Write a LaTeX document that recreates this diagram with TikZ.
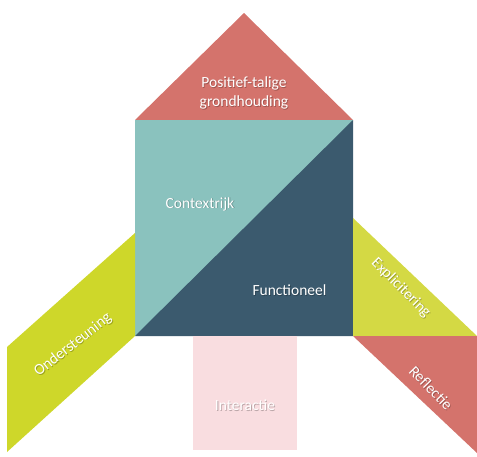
\documentclass[tikz,border=0pt]{standalone}
\usepackage{fontspec}
\setmainfont{Carlito}
\usetikzlibrary{calc}
\definecolor{roofred}{HTML}{D4736C}
\definecolor{tealc}{HTML}{8AC2BE}
\definecolor{navy}{HTML}{3B5A6E}
\definecolor{lime}{HTML}{CED72A}
\definecolor{limelight}{HTML}{D4D944}
\definecolor{pinkc}{HTML}{F9DDE0}
\tikzset{
  lbl/.style={text=white, font=\fontsize{15.5}{19}\selectfont, align=center, inner sep=0pt},
  shd/.style={text=black, opacity=0.25, font=\fontsize{15.5}{19}\selectfont, align=center, inner sep=0pt},
}
\newcommand{\shlabel}[4]{%
  \node[shd, rotate=#3] at ($(#1)+(0.8,0.8)$) {#4};
  \node[lbl, rotate=#3] (#2) at (#1) {#4};}
\begin{document}
\begin{tikzpicture}[x=1pt,y=-1pt]
\useasboundingbox (0,0) rectangle (477,456);
% shapes
\fill[roofred] (244,13) -- (353,120) -- (135,120) -- cycle;
\fill[tealc] (135,120) rectangle (353,336);
\fill[navy] (135,336) -- (353,120) -- (353,336) -- cycle;
\fill[lime] (135,233) -- (135,336) -- (7,452) -- (7,347) -- cycle;
\fill[pinkc] (193,336) rectangle (297,450);
\fill[limelight] (353,218) -- (477,336) -- (353,336) -- cycle;
\fill[roofred] (353,336) -- (477,336) -- (477,453) -- cycle;
% labels
\coordinate (p1) at (244,93);
\coordinate (p2) at (200,204);
\coordinate (p3) at (289.5,290);
\coordinate (p4) at (245,405);
\coordinate (p5) at (73,345);
\coordinate (p6) at (401,288);
\coordinate (p7) at (431,388);
\shlabel{p1}{roof}{0}{Positief-talige\\grondhouding}
\shlabel{p2}{ctx}{0}{Contextrijk}
\shlabel{p3}{fun}{0}{Functioneel}
\shlabel{p4}{int}{0}{Interactie}
\shlabel{p5}{ond}{38}{Ondersteuning}
\shlabel{p6}{exp}{-45}{Explicitering}
\shlabel{p7}{ref}{-46}{Reflectie}
\end{tikzpicture}
\end{document}
